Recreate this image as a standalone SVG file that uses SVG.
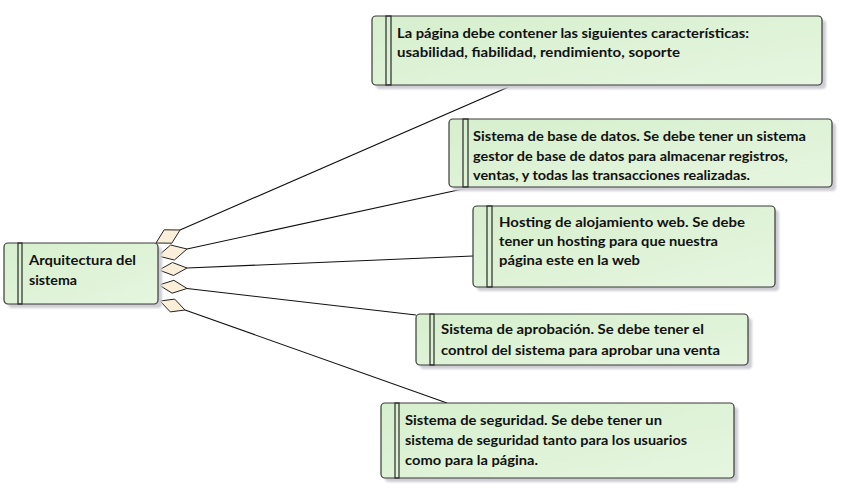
<svg xmlns="http://www.w3.org/2000/svg" width="843" height="497" viewBox="0 0 843 497">
<defs>
<linearGradient id="g" x1="0" y1="0" x2="1" y2="1">
<stop offset="0" stop-color="#d6efcd"/>
<stop offset="1" stop-color="#e6f6e0"/>
</linearGradient>
<filter id="sh" x="-10%" y="-10%" width="130%" height="140%">
<feGaussianBlur stdDeviation="1.2"/>
</filter>
</defs>
<style>
.box{fill:url(#g);stroke:#3a3a3a;stroke-width:1.2}
.shadow{fill:#cdcdd3;filter:url(#sh)}
.bar{fill:none;stroke:#2a2a2a;stroke-width:1.2}
.t{font-family:Lato,"Liberation Sans",sans-serif;font-weight:700;font-size:13px;fill:#111}
.con{stroke:#111;stroke-width:1.1;fill:none}
.dia{fill:#fbefd9;stroke:#222;stroke-width:1}
</style>
<rect width="843" height="497" fill="#fff"/>
<g id="connectors">
<line class="con" x1="180" y1="230" x2="513" y2="85"/>
<line class="con" x1="187" y1="249" x2="472" y2="187"/>
<line class="con" x1="187" y1="268" x2="473" y2="256"/>
<line class="con" x1="187" y1="288.5" x2="416" y2="315"/>
<line class="con" x1="185" y1="310" x2="447" y2="403"/>
<polygon class="dia" points="156,243 164.2,229.8 180,230 171.8,243.2"/>
<polygon class="dia" points="158,256 170.6,245 187,249 174.4,260"/>
<polygon class="dia" points="159,270 172.5,262.5 187,268 173.5,275.5"/>
<polygon class="dia" points="159,285 173.9,280.3 187,288.5 172.1,293.2"/>
<polygon class="dia" points="160,301 174.7,299.1 185,310 170.3,311.9"/>
</g>
<g id="arquitectura">
<rect class="shadow" x="8" y="247" width="154" height="61" rx="4"/>
<rect class="box" x="4" y="243" width="154" height="61" rx="4"/>
<rect class="bar" x="18" y="243" width="4" height="61"/>
<text class="t" x="29" y="265" textLength="107" lengthAdjust="spacingAndGlyphs">Arquitectura del</text>
<text class="t" x="29" y="285" textLength="48" lengthAdjust="spacingAndGlyphs">sistema</text>
</g>
<g id="req1">
<rect class="shadow" x="376" y="20" width="450" height="69" rx="4"/>
<rect class="box" x="372" y="16" width="450" height="69" rx="4"/>
<rect class="bar" x="386" y="16" width="5" height="69"/>
<text class="t" x="397" y="38" textLength="352" lengthAdjust="spacingAndGlyphs">La página debe contener las siguientes características:</text>
<text class="t" x="397" y="57" textLength="283" lengthAdjust="spacingAndGlyphs">usabilidad, fiabilidad, rendimiento, soporte</text>
</g>
<g id="req2">
<rect class="shadow" x="453" y="123" width="383" height="68" rx="4"/>
<rect class="box" x="449" y="119" width="383" height="68" rx="4"/>
<rect class="bar" x="463" y="119" width="5" height="68"/>
<text class="t" x="473" y="141" textLength="333" lengthAdjust="spacingAndGlyphs">Sistema de base de datos. Se debe tener un sistema</text>
<text class="t" x="473" y="161" textLength="315" lengthAdjust="spacingAndGlyphs">gestor de base de datos para almacenar registros,</text>
<text class="t" x="473" y="180" textLength="277" lengthAdjust="spacingAndGlyphs">ventas, y todas las transacciones realizadas.</text>
</g>
<g id="req3">
<rect class="shadow" x="477" y="210" width="302" height="81" rx="4"/>
<rect class="box" x="473" y="206" width="302" height="81" rx="4"/>
<rect class="bar" x="487" y="206" width="5" height="81"/>
<text class="t" x="499" y="227" textLength="246" lengthAdjust="spacingAndGlyphs">Hosting de alojamiento web. Se debe</text>
<text class="t" x="499" y="246" textLength="219" lengthAdjust="spacingAndGlyphs">tener un hosting para que nuestra</text>
<text class="t" x="499" y="265" textLength="141" lengthAdjust="spacingAndGlyphs">página este en la web</text>
</g>
<g id="req4">
<rect class="shadow" x="420" y="318" width="332" height="51" rx="4"/>
<rect class="box" x="416" y="314" width="332" height="51" rx="4"/>
<rect class="bar" x="430" y="314" width="4" height="51"/>
<text class="t" x="441" y="334" textLength="263" lengthAdjust="spacingAndGlyphs">Sistema de aprobación. Se debe tener el</text>
<text class="t" x="441" y="355" textLength="279" lengthAdjust="spacingAndGlyphs">control del sistema para aprobar una venta</text>
</g>
<g id="req5">
<rect class="shadow" x="385" y="407" width="353" height="75" rx="4"/>
<rect class="box" x="381" y="403" width="353" height="75" rx="4"/>
<rect class="bar" x="395" y="403" width="4" height="75"/>
<text class="t" x="405" y="425" textLength="257" lengthAdjust="spacingAndGlyphs">Sistema de seguridad. Se debe tener un</text>
<text class="t" x="405" y="445" textLength="282" lengthAdjust="spacingAndGlyphs">sistema de seguridad tanto para los usuarios</text>
<text class="t" x="405" y="465" textLength="133" lengthAdjust="spacingAndGlyphs">como para la página.</text>
</g>
</svg>
